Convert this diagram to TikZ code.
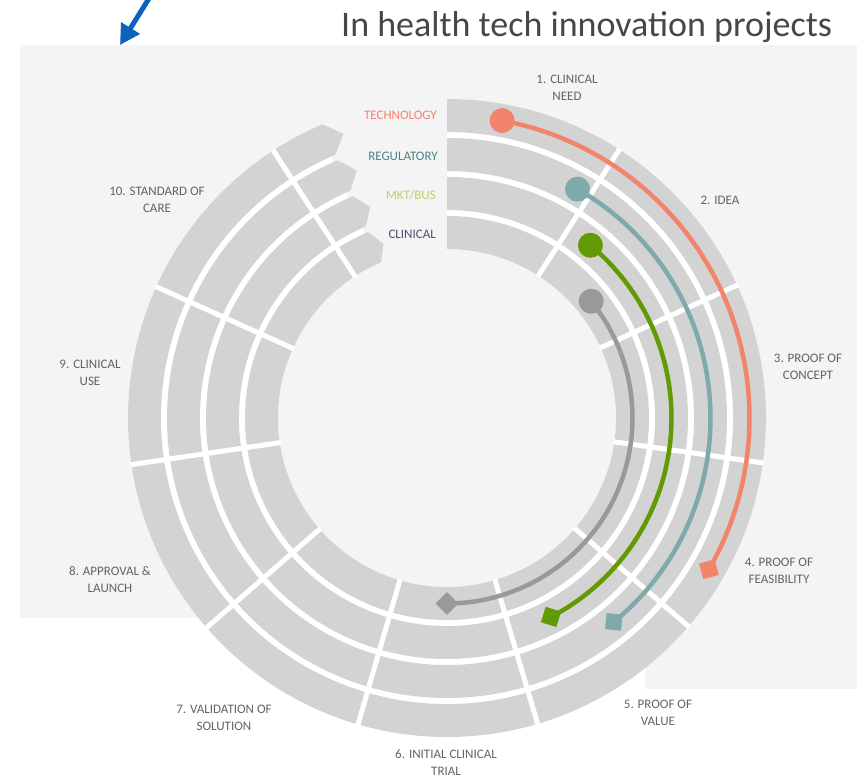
\documentclass[tikz,border=0pt]{standalone}
\usepackage{fontspec}
\setmainfont{Carlito}
\usetikzlibrary{arrows.meta,shapes.geometric}
\definecolor{bggray}{HTML}{F4F4F4}
\definecolor{ringgray}{HTML}{D3D3D3}
\definecolor{tech}{HTML}{F2846C}
\definecolor{reg}{HTML}{7FAAAB}
\definecolor{mkt}{HTML}{619A03}
\definecolor{clin}{HTML}{999999}
\definecolor{techlab}{HTML}{F2846C}
\definecolor{reglab}{HTML}{4A8282}
\definecolor{mktlab}{HTML}{B7D36A}
\definecolor{clinlab}{HTML}{4C5170}
\definecolor{stagetext}{HTML}{636363}
\definecolor{arrowblue}{HTML}{0B63BD}

\begin{document}
\begin{tikzpicture}[x=1pt,y=1pt,>={Triangle[length=20pt,width=21pt]},
 stage/.style={font=\fontsize{13}{17}\selectfont,text=stagetext,align=center,inner sep=0},
 track/.style={font=\fontsize{13}{15}\selectfont,anchor=east,inner sep=0},
 start dot/.style={circle,fill=#1,minimum size=25pt,inner sep=0},
 end mark/.style={diamond,fill=#1,minimum size=23pt,inner sep=0}]
\useasboundingbox (0,0) rectangle (860,779);
\fill[bggray] (20,734) -- (857,734) -- (857,90) -- (645,90) -- (645,161) -- (20,161) -- cycle;

\node[anchor=base west,inner sep=0,text=black!72,font=\fontsize{36}{40}\selectfont] (title) at (341,742) {In health tech innovation projects};
\coordinate (arrowtop) at (150.5,783);
\coordinate (arrowtip) at (120,734);
\draw[->,arrowblue,line width=5pt] (arrowtop) -- (arrowtip);

\begin{scope}[shift={(447,361)}]
\fill[white] (90:319) arc[start angle=90,end angle=-246,radius=319] -- (-246:169) arc[start angle=-246,end angle=90,radius=169] -- cycle;
\foreach \ro/\rm/\ri in {319/302.5/286, 280/263.5/247, 241/224.5/208, 202/185.5/169}{
  \fill[ringgray] (90:\ro) arc[start angle=90,end angle=-247,radius=\ro] -- (-250:\rm) -- (-247:\ri) arc[start angle=-247,end angle=90,radius=\ri] -- cycle;}
\foreach \a in {57.3,24.6,-8.1,-40.8,-73.5,-106.2,-138.9,-171.6,-204.3,-237}
  \draw[white,line width=5pt] (\a:168) -- (\a:320);

\foreach \n/\r/\s/\e in {tech/302.5/79.5/-30, reg/263.5/60.3/-50.7, mkt/224.5/50.3/-62.4, clin/185.5/39/-90}{
  \node[start dot=\n] (\n start) at (\s:\r) {};
  \node[end mark=\n,rotate=\e] (\n end) at (\e:\r) {};
  \draw[\n,line width=4.5pt] (\n start.center) arc[start angle=\s,end angle=\e,radius=\r];}
\end{scope}

\node[track,text=techlab] (techname) at (437,664) {TECHNOLOGY};
\node[track,text=reglab] (regname) at (438,623) {REGULATORY};
\node[track,text=mktlab] (mktname) at (436,584) {MKT/BUS};
\node[track,text=clinlab] (clinname) at (436,545) {CLINICAL};

\foreach \k/\x/\y/\t in {1/567/691/{1. CLINICAL\\NEED}, 2/720/579/{2. IDEA}, 3/808/412/{3. PROOF OF\\CONCEPT},
  4/779/208/{4. PROOF OF\\FEASIBILITY}, 5/658/66/{5. PROOF OF\\VALUE}, 6/446/16/{6. INITIAL CLINICAL\\TRIAL},
  7/224/61/{7. VALIDATION OF\\SOLUTION}, 8/110/199/{8. APPROVAL \&\\LAUNCH}, 9/90/406/{9. CLINICAL\\USE},
  10/157/579/{10. STANDARD OF\\CARE}}
  \node[stage] (stage\k) at (\x,\y) {\t};
\end{tikzpicture}
\end{document}
